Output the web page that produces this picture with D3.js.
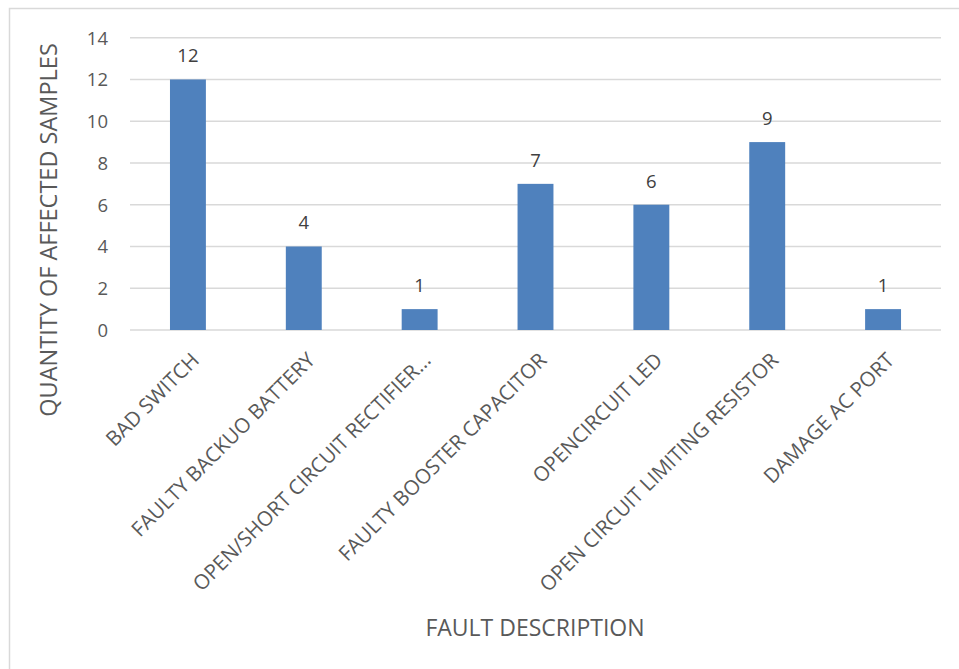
<!DOCTYPE html>
<html lang="en">
<head>
    <meta charset="UTF-8">
    <title>Fault description</title>
    <script src="https://d3js.org/d3.v7.min.js"></script>
    <style>
        body { margin: 0; background: #fff; }
        text { font-family: "Open Sans", "Liberation Sans", sans-serif; }
        .grid line { stroke: #d9d9d9; stroke-width: 1.5; }
        .tick text { fill: #595959; font-size: 18.5px; }
    </style>
</head>
<body>
<script>
    const width = 959;
    const height = 669;

    const faults = ["BAD SWITCH", "FAULTY BACKUO BATTERY", "OPEN/SHORT CIRCUIT RECTIFIER...",
        "FAULTY BOOSTER CAPACITOR", "OPENCIRCUIT LED", "OPEN CIRCUIT LIMITING RESISTOR", "DAMAGE AC PORT"];
    const counts = [12, 4, 1, 7, 6, 9, 1];
    const yTicks = [0, 2, 4, 6, 8, 10, 12, 14];

    const margin = {top: 37.7, right: 18, bottom: 339, left: 130};

    const svg = d3.select("body").append("svg")
            .attr("width", width).attr("height", height);

    // chart frame (only top and left edges show in the window)
    svg.append("rect")
            .attr("x", 9.5).attr("y", 8.5)
            .attr("width", 960).attr("height", 700)
            .attr("fill", "none").attr("stroke", "#d9d9d9").attr("stroke-width", 1.5);

    const x = d3.scaleBand()
            .domain(faults)
            .range([margin.left, width - margin.right])
            .paddingInner(0.69).paddingOuter(0.345);

    const y = d3.scaleLinear()
            .domain([0, 14])
            .range([height - margin.bottom, margin.top]);

    // gridlines
    svg.append("g").attr("class", "grid")
            .selectAll("line")
            .data(yTicks).enter()
            .append("line")
            .attr("x1", margin.left).attr("x2", width - margin.right)
            .attr("y1", d => y(d)).attr("y2", d => y(d));

    // y axis labels
    const yAxis = svg.append("g")
            .attr("transform", `translate(${margin.left - 22},0)`)
            .call(d3.axisLeft(y).tickValues(yTicks).tickSize(0).tickPadding(0));
    yAxis.select(".domain").remove();
    yAxis.selectAll("text").attr("dy", "0.35em");

    // bars
    svg.selectAll("rect.bar")
            .data(counts).enter()
            .append("rect")
            .attr("class", "bar")
            .attr("x", (d, i) => x(faults[i]))
            .attr("width", x.bandwidth())
            .attr("y", d => y(d))
            .attr("height", d => y(0) - y(d))
            .attr("fill", "#4f81bd");

    // value labels
    svg.selectAll("text.value")
            .data(counts).enter()
            .append("text")
            .attr("class", "value")
            .attr("x", (d, i) => x(faults[i]) + x.bandwidth() / 2)
            .attr("y", d => y(d) - 17)
            .attr("text-anchor", "middle")
            .attr("fill", "#404040")
            .style("font-size", "18.5px")
            .text(d => d);

    // category labels, rotated
    svg.selectAll("text.cat")
            .data(faults).enter()
            .append("text")
            .attr("class", "cat")
            .attr("transform", d => `translate(${x(d) + x.bandwidth() / 2 + 12.5},${y(0) + 31.5}) rotate(-45)`)
            .attr("text-anchor", "end")
            .attr("fill", "#595959")
            .style("font-size", "20.5px")
            .text(d => d);

    // axis titles
    svg.append("text")
            .attr("x", 535)
            .attr("y", 636)
            .attr("text-anchor", "middle")
            .attr("fill", "#595959")
            .style("font-size", "23px")
            .text("FAULT DESCRIPTION");

    svg.append("text")
            .attr("transform", `translate(57,230) rotate(-90)`)
            .attr("text-anchor", "middle")
            .attr("fill", "#595959")
            .style("font-size", "23.5px")
            .text("QUANTITY OF AFFECTED SAMPLES");
</script>
</body>
</html>
